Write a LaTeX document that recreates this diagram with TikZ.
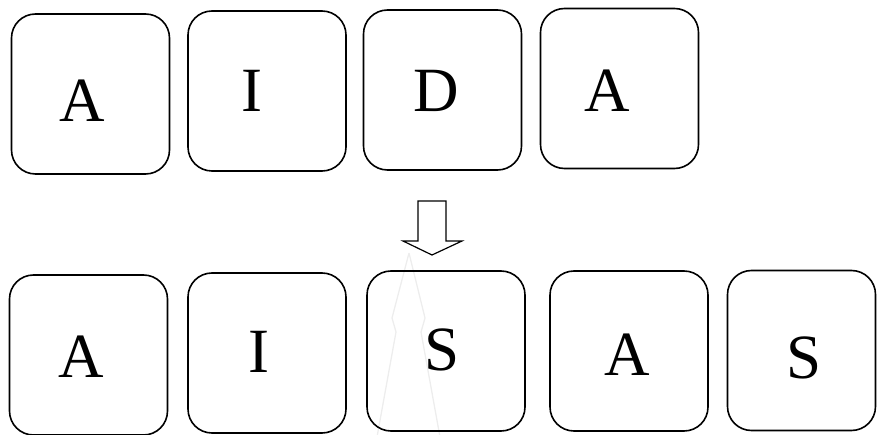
\documentclass[tikz,border=0pt]{standalone}
\usepackage{fontspec}
\setmainfont{Liberation Serif}
\begin{document}
\begin{tikzpicture}[x=1pt,y=-1pt,
  letterbox/.style={draw=black, line width=1.6pt, rounded corners=24pt,
    minimum width=158pt, minimum height=160pt, inner sep=0pt},
  letter/.style={anchor=base, inner sep=0pt,
    font=\fontsize{63}{70}\selectfont, text=black},
  hollowarrow/.style={draw=black, line width=1.2pt, fill=white, line join=miter}]
\useasboundingbox (0,0) rectangle (877,435);

% faint outline behind the lower row
\draw[black!7, line width=1.3pt, line join=round]
  (409,253) -- (392,318) -- (396,332) -- (377,437)
  (409,253) -- (425,318) -- (421,332) -- (440,437);

% upper row
\node[letterbox] (t1) at (90.5,94)   {};
\node[letterbox] (t2) at (267,91)    {};
\node[letterbox] (t3) at (442.5,90)  {};
\node[letterbox] (t4) at (619.5,88.5) {};
\node[letter] (t1l) at (82,122)  {A};
\node[letter] (t2l) at (252,112) {I};
\node[letter] (t3l) at (436,112) {D};
\node[letter] (t4l) at (607,112) {A};

% lower row
\node[letterbox] (b1) at (88.5,355) {};
\node[letterbox] (b2) at (267,353)  {};
\node[letterbox] (b3) at (446,351)  {};
\node[letterbox] (b4) at (629,351)  {};
\node[letterbox, minimum width=148pt] (b5) at (801.5,350.5) {};
\node[letter] (b1l) at (81,377)  {A};
\node[letter] (b2l) at (259,372) {I};
\node[letter] (b3l) at (442,370) {S};
\node[letter] (b4l) at (627,375) {A};
\node[letter] (b5l) at (804,378) {S};

% hollow down arrow between the rows
\draw[hollowarrow]
  (418,201) -- (446,201) -- (446,241) -- (462,241) -- (432,255)
  -- (403,241) -- (418,241) -- cycle;
\end{tikzpicture}
\end{document}
